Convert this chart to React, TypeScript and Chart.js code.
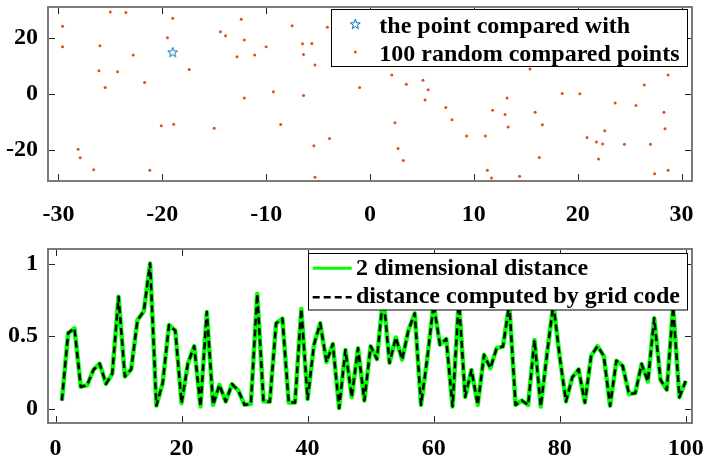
import React, { useEffect, useRef } from "react";
import { Chart, registerables } from "chart.js";
Chart.register(...registerables);

// ---- data: top panel (scatter) ----
const randomX = [
  -25.0, -23.5, -19.0, -29.6, -19.5, -29.6, -26.0, -22.8, -17.4, -26.1,
  -24.3, -21.7, -25.5, -20.1, -18.9, -28.1, -27.9, -26.6, -21.2, -12.4,
  -7.5, -4.1, -14.4, -13.9, -12.1, -6.5, -5.6, -10.0, -12.8, -11.1,
  -6.4, -5.3, -1.0, -9.3, -12.1, -6.4, -15.0, -8.6, -3.9, -5.4,
  -5.3, 2.1, 3.5, 5.1, 5.6, 5.3, 7.3, 7.9, 2.4, 9.3,
  11.1, 2.7, 3.2, 11.3, 11.7, 14.4, 13.2, 11.8, 13.0, 13.3,
  28.7, 26.4, 18.5, 20.2, 23.6, 25.6, 15.9, 28.3, 16.6, 22.6,
  28.4, 20.9, 21.8, 22.4, 24.5, 27.0, 16.3, 22.0, 27.4, 28.7, 15.4,
];
const randomY = [
  29.2, 29.0, 27.0, 24.1, 20.0, 16.8, 17.2, 13.9, 8.7, 8.3,
  7.9, 4.1, 2.3, -11.3, -10.8, -19.7, -22.7, -27.0, -27.2, 26.6,
  24.3, 23.8, 22.2, 20.8, 19.2, 17.9, 18.0, 16.8, 13.3, 13.9,
  14.1, 10.3, 2.3, 0.8, -1.4, -0.5, -12.2, -10.9, -15.9, -18.4,
  -29.7, 6.8, 3.5, 4.9, 1.5, -2.1, -4.8, -9.2, -10.2, -15.0,
  -15.0, -19.4, -23.7, -27.2, -29.9, -29.3, -1.4, -5.8, -7.3, -11.8,
  6.8, 3.2, 0.2, 0.1, -3.2, -4.1, -6.5, -6.5, -11.0, -13.1,
  -12.4, -15.5, -17.1, -17.8, -17.9, -17.9, -22.6, -23.2, -28.4, -27.2, 8.9,
];
const targetX = [-19.0];
const targetY = [14.9];

// ---- data: bottom panel (distances) ----
const pointIndex = [
  1, 2, 3, 4, 5, 6, 7, 8, 9, 10, 11, 12, 13, 14, 15, 16, 17, 18, 19, 20,
  21, 22, 23, 24, 25, 26, 27, 28, 29, 30, 31, 32, 33, 34, 35, 36, 37, 38, 39, 40,
  41, 42, 43, 44, 45, 46, 47, 48, 49, 50, 51, 52, 53, 54, 55, 56, 57, 58, 59, 60,
  61, 62, 63, 64, 65, 66, 67, 68, 69, 70, 71, 72, 73, 74, 75, 76, 77, 78, 79, 80,
  81, 82, 83, 84, 85, 86, 87, 88, 89, 90, 91, 92, 93, 94, 95, 96, 97, 98, 99, 100,
];
const distance2D = [
  0.055, 0.52, 0.553, 0.15, 0.16, 0.266, 0.31, 0.17, 0.24, 0.77,
  0.22, 0.27, 0.61, 0.67, 1.0, 0.02, 0.175, 0.576, 0.537, 0.037,
  0.31, 0.43, 0.014, 0.665, 0.025, 0.163, 0.048, 0.168, 0.124, 0.025,
  0.032, 0.79, 0.05, 0.046, 0.588, 0.62, 0.041, 0.041, 0.686, 0.065,
  0.438, 0.588, 0.32, 0.445, 0.003, 0.404, 0.078, 0.415, 0.055, 0.43,
  0.34, 0.78, 0.315, 0.49, 0.337, 0.54, 0.656, 0.025, 0.35, 0.72,
  0.44, 0.48, 0.014, 0.75, 0.08, 0.266, 0.025, 0.37, 0.278, 0.416,
  0.427, 0.72, 0.025, 0.055, 0.025, 0.473, 0.014, 0.38, 0.72, 0.358,
  0.048, 0.215, 0.27, 0.041, 0.363, 0.43, 0.363, 0.019, 0.33, 0.294,
  0.1, 0.106, 0.307, 0.186, 0.622, 0.198, 0.129, 0.7, 0.078, 0.19,
];
const gridDistance = distance2D; // identical to the 2-D distance in the picture

// ---- tick labels ----
const topXTicks = [-30, -20, -10, 0, 10, 20, 30];
const topYTicks = [-20, 0, 20];
const bottomXTicks = [0, 20, 40, 60, 80, 100];
const bottomYTicks = [0, 0.5, 1];
const topLegend = ["the point compared with", "100 random compared points"];
const bottomLegend = ["2 dimensional distance", "distance computed by grid code"];

const FAMILY = "'Liberation Serif', 'Times New Roman', serif";
const LEGEND_FONT = `bold 24px ${FAMILY}`;
const BLUE = "#0072BD";
const ORANGE = "#D95319";

function drawPentagram(ctx: CanvasRenderingContext2D, cx: number, cy: number, R: number) {
  ctx.beginPath();
  for (let i = 0; i < 10; i++) {
    const ang = -Math.PI / 2 + (i * Math.PI) / 5;
    const r = i % 2 === 0 ? R : R * 0.4;
    const x = cx + r * Math.cos(ang);
    const y = cy + r * Math.sin(ang);
    if (i === 0) ctx.moveTo(x, y);
    else ctx.lineTo(x, y);
  }
  ctx.closePath();
  ctx.strokeStyle = BLUE;
  ctx.lineWidth = 1;
  ctx.stroke();
}

function makeStarImage() {
  const c = document.createElement("canvas");
  c.width = 14;
  c.height = 14;
  const g = c.getContext("2d")!;
  drawPentagram(g, 7, 7.5, 5.2);
  return c;
}

function framePlugin(drawLegend: (ctx: CanvasRenderingContext2D) => void) {
  return {
    id: "frame",
    afterDraw(chart: any) {
      const { ctx, chartArea: a } = chart;
      const sx = chart.scales.x;
      const sy = chart.scales.y;
      ctx.save();
      ctx.strokeStyle = "#262626";
      ctx.lineWidth = 1;
      ctx.beginPath();
      sx.ticks.forEach((t: any) => {
        const p = Math.round(sx.getPixelForValue(t.value)) + 0.5;
        ctx.moveTo(p, a.bottom);
        ctx.lineTo(p, a.bottom - 7);
        ctx.moveTo(p, a.top);
        ctx.lineTo(p, a.top + 7);
      });
      sy.ticks.forEach((t: any) => {
        const p = Math.round(sy.getPixelForValue(t.value)) + 0.5;
        ctx.moveTo(a.left, p);
        ctx.lineTo(a.left + 7, p);
        ctx.moveTo(a.right, p);
        ctx.lineTo(a.right - 7, p);
      });
      ctx.stroke();
      ctx.strokeStyle = "#7a7a7a";
      ctx.lineWidth = 2;
      ctx.strokeRect(a.left, a.top, a.right - a.left, a.bottom - a.top);
      drawLegend(ctx);
      ctx.restore();
    },
  };
}

function axisOpts(min: number, max: number, ticks: number[], size: number, horizontal: boolean, padding: number) {
  return {
    type: "linear" as const,
    min,
    max,
    afterBuildTicks: (s: any) => {
      s.ticks = ticks.map((v) => ({ value: v }));
    },
    afterFit: (s: any) => {
      if (horizontal) s.height = size;
      else s.width = size;
      s.paddingTop = 0;
      s.paddingBottom = 0;
      s.paddingLeft = 0;
      s.paddingRight = 0;
    },
    grid: { display: false, drawTicks: false },
    border: { display: false },
    ticks: {
      color: "#000",
      padding,
      maxRotation: 0,
      autoSkip: false,
      callback: (v: any) => `${v}`,
      font: { family: FAMILY, size: 24, weight: "bold" as const },
    },
  };
}

export default function App() {
  const topRef = useRef<HTMLCanvasElement>(null);
  const botRef = useRef<HTMLCanvasElement>(null);

  useEffect(() => {
    const star = makeStarImage();
    const topChart = new Chart(topRef.current!, {
      type: "scatter",
      data: {
        datasets: [
          {
            label: topLegend[0],
            data: targetX.map((x, i) => ({ x, y: targetY[i] })),
            pointStyle: star as any,
            pointRadius: 6,
            order: 0,
          },
          {
            label: topLegend[1],
            data: randomX.map((x, i) => ({ x, y: randomY[i] })),
            pointRadius: 1.5,
            pointBorderWidth: 0,
            backgroundColor: ORANGE,
            borderColor: ORANGE,
            order: 1,
          },
        ],
      },
      options: {
        animation: false,
        responsive: false,
        layout: { padding: { top: 6, right: 15, left: 0, bottom: 0 } },
        plugins: { legend: { display: false }, tooltip: { enabled: false } },
        scales: {
          x: axisOpts(-31, 31, topXTicks, 51, true, 19),
          y: axisOpts(-31, 31, topYTicks, 48, false, 10),
        },
      },
      plugins: [
        framePlugin((ctx) => {
          ctx.fillStyle = "#fff";
          ctx.fillRect(331, 9, 357, 58);
          ctx.strokeStyle = "#000";
          ctx.lineWidth = 1;
          ctx.strokeRect(331.5, 9.5, 356, 57);
          drawPentagram(ctx, 355.3, 24.5, 5.2);
          ctx.beginPath();
          ctx.arc(355.3, 52, 1.5, 0, Math.PI * 2);
          ctx.fillStyle = ORANGE;
          ctx.fill();
          ctx.fillStyle = "#000";
          ctx.font = LEGEND_FONT;
          ctx.textAlign = "left";
          ctx.textBaseline = "alphabetic";
          ctx.fillText(topLegend[0], 379.3, 33.3);
          ctx.fillText(topLegend[1], 379.3, 61);
        }),
      ],
    });

    const botChart = new Chart(botRef.current!, {
      type: "line",
      data: {
        datasets: [
          {
            label: bottomLegend[1],
            data: pointIndex.map((x, i) => ({ x, y: gridDistance[i] })),
            borderColor: "#000",
            borderWidth: 2.5,
            borderDash: [7, 4],
            borderJoinStyle: "round",
            pointRadius: 0,
            tension: 0,
            order: 0,
          },
          {
            label: bottomLegend[0],
            data: pointIndex.map((x, i) => ({ x, y: distance2D[i] })),
            borderColor: "#00FF00",
            borderWidth: 4.5,
            borderJoinStyle: "round",
            pointRadius: 0,
            tension: 0,
            order: 1,
          },
        ],
      },
      options: {
        animation: false,
        responsive: false,
        layout: { padding: { top: 17, right: 15, left: 0, bottom: 0 } },
        plugins: { legend: { display: false }, tooltip: { enabled: false } },
        scales: {
          x: axisOpts(-1.2, 101, bottomXTicks, 41, true, 11),
          y: axisOpts(-0.1, 1.1, bottomYTicks, 48, false, 10),
        },
      },
      plugins: [
        framePlugin((ctx) => {
          ctx.fillStyle = "#fff";
          ctx.fillRect(308, 21.3, 380, 56.7);
          ctx.strokeStyle = "#000";
          ctx.lineWidth = 1;
          ctx.strokeRect(308.5, 21.5, 379, 56.5);
          ctx.beginPath();
          ctx.moveTo(312.7, 36.3);
          ctx.lineTo(351.7, 36.3);
          ctx.strokeStyle = "#00FF00";
          ctx.lineWidth = 3;
          ctx.stroke();
          ctx.beginPath();
          ctx.setLineDash([7, 4]);
          ctx.moveTo(312.7, 65.3);
          ctx.lineTo(351.7, 65.3);
          ctx.strokeStyle = "#000";
          ctx.lineWidth = 2.5;
          ctx.stroke();
          ctx.setLineDash([]);
          ctx.fillStyle = "#000";
          ctx.font = LEGEND_FONT;
          ctx.textAlign = "left";
          ctx.textBaseline = "alphabetic";
          ctx.fillText(bottomLegend[0], 356, 43);
          ctx.fillText(bottomLegend[1], 356, 71.3);
        }),
      ],
    });

    return () => {
      topChart.destroy();
      botChart.destroy();
    };
  }, []);

  return (
    <div style={{ position: "absolute", left: 0, top: 0, width: 707, height: 464, background: "#fff" }}>
      <canvas ref={topRef} width={707} height={232} style={{ position: "absolute", left: 0, top: 0 }} />
      <canvas ref={botRef} width={707} height={232} style={{ position: "absolute", left: 0, top: 232 }} />
    </div>
  );
}
